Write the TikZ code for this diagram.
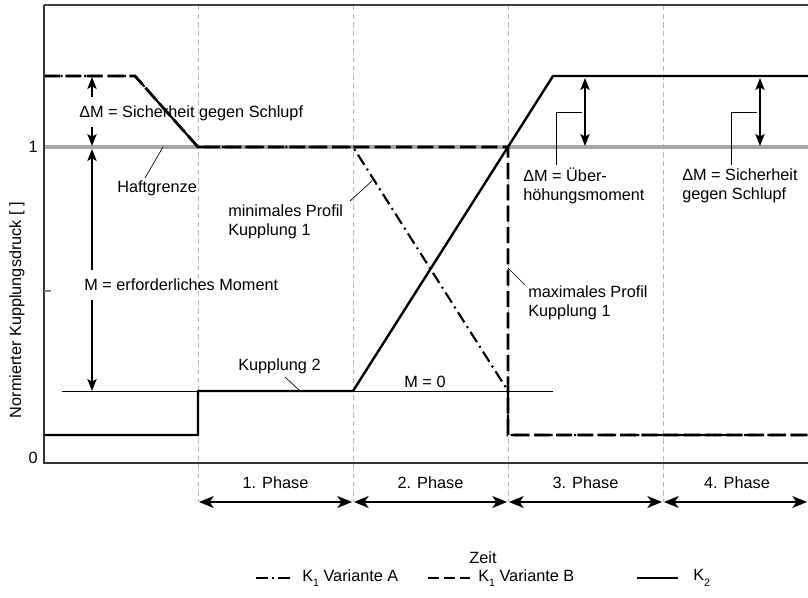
\documentclass[tikz,border=0pt]{standalone}
\usepackage{fontspec}
\setmainfont{Liberation Sans}
\usetikzlibrary{arrows.meta}
\begin{document}
\begin{tikzpicture}[x=0.75pt,y=-0.75pt,
  lbl/.style={font=\fontsize{12.2}{14.6}\selectfont, inner sep=0pt, align=left},
  gridl/.style={gray!55, line width=0.6pt, dash pattern=on 4pt off 2.5pt},
  kA/.style={line width=1.6pt, dash pattern=on 9pt off 3.5pt on 1.5pt off 3.5pt},
  kB/.style={line width=2.1pt, dash pattern=on 12pt off 4pt},
  kz/.style={line width=1.8pt},
  thinl/.style={line width=0.6pt},
  leader/.style={line width=0.5pt},
  tip/.tip={Stealth[length=9pt,width=7pt,inset=2pt]},
  dim/.style={line width=0.9pt, -tip},
  ddim/.style={line width=0.9pt, tip-tip},
  phase/.style={line width=1.2pt, {Stealth[length=11pt,width=9pt,inset=3pt]}-{Stealth[length=11pt,width=9pt,inset=3pt]}},
]
\useasboundingbox (0,0) rectangle (808,598);
% grid verticals
\foreach \xx in {198,353,508,663}{\draw[gridl] (\xx,5) -- (\xx,502);}
% Haftgrenze
\draw[gray!70, line width=2.4pt] (44,147) -- (808,147);
% M=0 line
\draw[thinl] (62,391) -- (553,391);
% curves
\draw[kA] (44,76) -- (135,76) -- (198,147) -- (353,147) -- (508,391) -- (508,435) -- (808,435);
\draw[kB] (44,76) -- (135,76) -- (198,147) -- (508,147) -- (508,435) -- (808,435);
\draw[kz] (44,435) -- (198,435) -- (198,391) -- (353,391) -- (553,76) -- (808,76);
% axes
\draw[black!75, line width=1.6pt] (44,5) -- (808,5);
\draw[black!80, line width=1.1pt] (44,5) -- (44,463) -- (808,463);
\draw[gray, line width=0.8pt] (44,291) -- (51,291);
\node[lbl, anchor=east] (one) at (38,147) {1};
\node[lbl, anchor=east] (zero) at (38,458) {0};
\node[lbl, rotate=90] (ylab) at (17,310) {Normierter Kupplungsdruck [ ]};
% left dimension arrows
\node[lbl, anchor=west] (dms) at (79,113) {ΔM = Sicherheit gegen Schlupf};
\coordinate (a1) at (92,97); \coordinate (a1t) at (92,77);
\coordinate (a2) at (92,127); \coordinate (a2t) at (92,146);
\draw[dim] (a1) -- (a1t);
\draw[dim] (a2) -- (a2t);
\node[lbl, anchor=west] (mer) at (84,285) {M = erforderliches Moment};
\coordinate (b1) at (92,270); \coordinate (b1t) at (92,149);
\coordinate (b2) at (92,300); \coordinate (b2t) at (92,391);
\draw[dim] (b1) -- (b1t);
\draw[dim] (b2) -- (b2t);
% Haftgrenze
\node[lbl, anchor=west] (haft) at (117,188) {Haftgrenze};
\coordinate (h1) at (163,147);
\draw[leader] (h1) -- (145,178);
% minimales Profil
\node[lbl, anchor=west] (minp) at (228,222) {minimales Profil\\Kupplung 1};
\coordinate (m1) at (372,181);
\draw[leader] (350,201) -- (m1);
% Kupplung 2
\node[lbl, anchor=west] (k2l) at (238,366) {Kupplung 2};
\coordinate (k2p) at (300,391);
\draw[leader] (285,377) -- (k2p);
% M = 0
\node[lbl] (m0) at (425,382) {M = 0};
% maximales Profil
\node[lbl, anchor=west] (maxp) at (528,303) {maximales Profil\\Kupplung 1};
\coordinate (x1) at (508,268);
\draw[leader] (x1) -- (525,285);
% right dimension arrows
\coordinate (r1a) at (585,78); \coordinate (r1b) at (585,146);
\draw[ddim] (r1a) -- (r1b);
\coordinate (r2a) at (760,78); \coordinate (r2b) at (760,146);
\draw[ddim] (r2a) -- (r2b);
\node[lbl, anchor=west] (ueb) at (523,186) {ΔM = Über-\\höhungsmoment};
\draw[leader] (582,112) -- (556,112) -- (556,165);
\node[lbl, anchor=west] (sgs) at (682,186) {ΔM = Sicherheit\\gegen Schlupf};
\draw[leader] (757,112) -- (731,112) -- (731,165);
% phases
\coordinate (p0) at (199,502); \coordinate (p1) at (352,502);
\coordinate (p1b) at (354,502); \coordinate (p2) at (507,502);
\coordinate (p2b) at (509,502); \coordinate (p3) at (662,502);
\coordinate (p3b) at (664,502); \coordinate (p4) at (807,502);
\draw[phase] (p0) -- (p1);
\draw[phase] (p1b) -- (p2);
\draw[phase] (p2b) -- (p3);
\draw[phase] (p3b) -- (p4);
\node[lbl] (ph1) at (275.5,483) {1. Phase};
\node[lbl] (ph2) at (430.5,483) {2. Phase};
\node[lbl] (ph3) at (585.5,483) {3. Phase};
\node[lbl] (ph4) at (737,483) {4. Phase};
\node[lbl] (zeit) at (483,558) {Zeit};
% legend
\coordinate (lA1) at (256,578); \coordinate (lA2) at (294,578);
\draw[kA, dash pattern=on 9pt off 3pt on 1.5pt off 3pt] (lA1) -- (lA2);
\node[lbl, anchor=west] (legA) at (302,578) {K\raisebox{-4pt}{\fontsize{8}{9}\selectfont 1} Variante A};
\coordinate (lB1) at (428,578); \coordinate (lB2) at (470,578);
\draw[kB, dash pattern=on 8pt off 4pt] (lB1) -- (lB2);
\node[lbl, anchor=west] (legB) at (478,578) {K\raisebox{-4pt}{\fontsize{8}{9}\selectfont 1} Variante B};
\coordinate (lC1) at (637,578); \coordinate (lC2) at (678,578);
\draw[kz] (lC1) -- (lC2);
\node[lbl, anchor=west] (legC) at (693,578) {K\raisebox{-4pt}{\fontsize{8}{9}\selectfont 2}};
\end{tikzpicture}
\end{document}
